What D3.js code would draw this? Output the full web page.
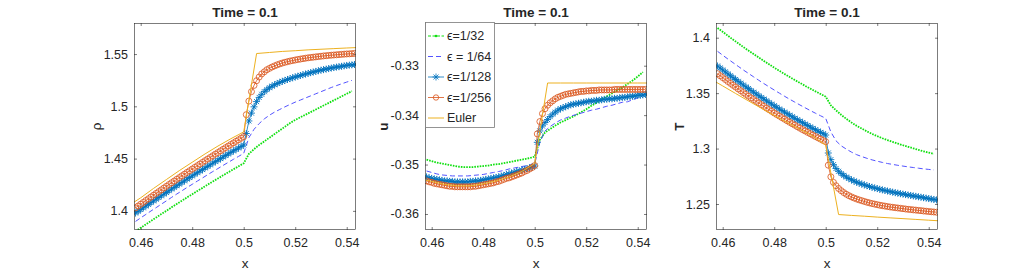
<!DOCTYPE html>
<html>
<head>
<meta charset="utf-8">
<script src="https://cdn.jsdelivr.net/npm/d3@7"></script>
<style>
  body { margin: 0; background: #fff; }
  svg text { font-family: "Liberation Sans", Arial, Helvetica, sans-serif; fill: #262626; }
</style>
</head>
<body>
<div id="chart"></div>
<script>
"use strict";

// x grids of the solutions
var xFine = [0.458,0.459,0.460,0.461,0.462,0.463,0.464,0.465,0.466,0.467,
  0.468,0.469,0.470,0.471,0.472,0.473,0.474,0.475,0.476,0.477,
  0.478,0.479,0.480,0.481,0.482,0.483,0.484,0.485,0.486,0.487,
  0.488,0.489,0.490,0.491,0.492,0.493,0.494,0.495,0.496,0.497,
  0.498,0.499,0.500,0.501,0.502,0.503,0.504,0.505,0.506,0.507,
  0.508,0.509,0.510,0.511,0.512,0.513,0.514,0.515,0.516,0.517,
  0.518,0.519,0.520,0.521,0.522,0.523,0.524,0.525,0.526,0.527,
  0.528,0.529,0.530,0.531,0.532,0.533,0.534,0.535,0.536,0.537,
  0.538,0.539,0.540,0.541,0.542,0.543];
var xCoarse = [0.458,0.460,0.462,0.464,0.466,0.468,0.470,0.472,0.474,0.476,
  0.478,0.480,0.482,0.484,0.486,0.488,0.490,0.492,0.494,0.496,
  0.498,0.500,0.502,0.504,0.506,0.508,0.510,0.512,0.514,0.516,
  0.518,0.520,0.522,0.524,0.526,0.528,0.530,0.532,0.534,0.536,
  0.538,0.540,0.542];
var xEuler = [0.455,0.460,0.465,0.470,0.475,0.480,0.485,0.490,0.495,0.500,
  0.505,0.510,0.515,0.520,0.525,0.530,0.535,0.540,0.545];

// density rho
var rhoE32 = [1.3804,1.3838,1.3871,1.3904,1.3936,1.3969,1.4001,1.4034,1.4066,1.4097,
  1.4129,1.4159,1.4190,1.4220,1.4251,1.4281,1.4310,1.4340,1.4369,1.4398,1.4426,1.4455,
  1.4545,1.4590,1.4630,1.4665,1.4700,1.4735,1.4770,1.4805,1.4840,1.4870,
  1.4895,1.4920,1.4945,1.4970,1.4995,1.5020,1.5045,1.5070,1.5095,1.5120,1.5145];
var rhoE64 = [1.3899,1.3933,1.3966,1.3999,1.4031,1.4064,1.4096,1.4129,1.4161,1.4192,
  1.4224,1.4254,1.4285,1.4315,1.4346,1.4376,1.4405,1.4435,1.4464,1.4493,1.4521,1.4550,
  1.4700,1.4780,1.4835,1.4880,1.4915,1.4945,1.4970,1.4995,1.5018,1.5040,
  1.5060,1.5080,1.5100,1.5120,1.5140,1.5160,1.5180,1.5198,1.5215,1.5232,1.5248];
var rhoE128 = [1.3979,1.3995,1.4013,1.4029,1.4046,1.4062,1.4079,1.4095,1.4111,1.4128,
  1.4144,1.4160,1.4176,1.4193,1.4209,1.4224,1.4241,1.4256,1.4272,1.4287,
  1.4304,1.4319,1.4334,1.4350,1.4365,1.4380,1.4395,1.4411,1.4426,1.4440,
  1.4456,1.4471,1.4485,1.4500,1.4515,1.4530,1.4544,1.4559,1.4573,1.4587,
  1.4601,1.4616,1.4630,
  1.4740,1.4860,1.4935,1.4995,1.5045,1.5085,1.5115,1.5140,1.5160,1.5178,
  1.5193,1.5206,1.5218,1.5229,1.5239,1.5248,1.5257,1.5265,1.5273,1.5281,
  1.5288,1.5295,1.5302,1.5309,1.5315,1.5322,1.5328,1.5334,1.5340,1.5346,
  1.5351,1.5356,1.5361,1.5366,1.5371,1.5375,1.5379,1.5383,1.5387,1.5391,
  1.5394,1.5397,1.5400];
var rhoE256 = [1.4029,1.4046,1.4064,1.4081,1.4099,1.4116,1.4133,1.4150,1.4167,1.4184,
  1.4201,1.4218,1.4235,1.4252,1.4269,1.4285,1.4302,1.4318,1.4335,1.4351,
  1.4368,1.4384,1.4400,1.4416,1.4432,1.4448,1.4464,1.4480,1.4496,1.4511,
  1.4527,1.4543,1.4558,1.4574,1.4589,1.4605,1.4620,1.4635,1.4650,1.4665,
  1.4680,1.4695,1.4710,
  1.4920,1.5050,1.5140,1.5200,1.5245,1.5280,1.5310,1.5330,1.5350,1.5363,
  1.5376,1.5387,1.5397,1.5406,1.5414,1.5421,1.5427,1.5433,1.5438,1.5443,
  1.5448,1.5452,1.5456,1.5460,1.5464,1.5467,1.5470,1.5473,1.5476,1.5479,
  1.5482,1.5484,1.5487,1.5489,1.5491,1.5493,1.5495,1.5497,1.5499,1.5501,
  1.5502,1.5504,1.5506];
var rhoEuler = [1.4045,1.4125,1.4215,1.4300,1.4385,1.4465,1.4545,1.4620,1.4690,1.4755,
  1.5505,1.5515,1.5525,1.5532,1.5540,1.5546,1.5552,1.5558,1.5563];

// velocity u
var uE32 = [-0.3490,-0.3493,-0.3496,-0.3498,-0.3500,-0.3502,-0.3504,-0.3505,-0.3505,-0.3505,
  -0.3504,-0.3503,-0.3502,-0.3500,-0.3499,-0.3497,-0.3495,-0.3493,-0.3491,-0.3489,-0.3487,-0.3484,
  -0.3450,-0.3435,-0.3428,-0.3421,-0.3415,-0.3410,-0.3405,-0.3400,-0.3394,-0.3388,
  -0.3381,-0.3375,-0.3368,-0.3362,-0.3356,-0.3350,-0.3344,-0.3337,-0.3330,-0.3322,-0.3313];
var uE64 = [-0.3513,-0.3516,-0.3519,-0.3521,-0.3522,-0.3523,-0.3523,-0.3523,-0.3523,-0.3522,
  -0.3521,-0.3520,-0.3518,-0.3516,-0.3514,-0.3512,-0.3509,-0.3507,-0.3505,-0.3503,-0.3501,-0.3499,
  -0.3455,-0.3432,-0.3423,-0.3416,-0.3410,-0.3406,-0.3402,-0.3399,-0.3396,-0.3393,
  -0.3390,-0.3388,-0.3385,-0.3382,-0.3380,-0.3377,-0.3374,-0.3373,-0.3369,-0.3365,-0.3361];
var uE128 = [-0.3525,-0.3527,-0.3528,-0.3529,-0.3530,-0.3531,-0.3532,-0.3533,-0.3533,-0.3534,
  -0.3534,-0.3535,-0.3535,-0.3535,-0.3535,-0.3535,-0.3535,-0.3534,-0.3534,-0.3533,
  -0.3533,-0.3532,-0.3531,-0.3530,-0.3529,-0.3528,-0.3527,-0.3526,-0.3525,-0.3523,
  -0.3522,-0.3520,-0.3519,-0.3517,-0.3516,-0.3514,-0.3513,-0.3511,-0.3510,-0.3508,
  -0.3507,-0.3505,-0.3503,
  -0.3455,-0.3432,-0.3422,-0.3415,-0.3409,-0.3403,-0.3398,-0.3394,-0.3390,-0.3387,
  -0.3385,-0.3383,-0.3381,-0.3379,-0.3378,-0.3377,-0.3376,-0.3375,-0.3374,-0.3373,
  -0.3372,-0.3372,-0.3371,-0.3370,-0.3370,-0.3369,-0.3368,-0.3368,-0.3367,-0.3367,
  -0.3366,-0.3366,-0.3365,-0.3364,-0.3364,-0.3363,-0.3362,-0.3362,-0.3361,-0.3360,
  -0.3360,-0.3359,-0.3358];
var uE256 = [-0.3533,-0.3535,-0.3536,-0.3538,-0.3539,-0.3540,-0.3541,-0.3542,-0.3543,-0.3544,
  -0.3544,-0.3545,-0.3545,-0.3545,-0.3545,-0.3545,-0.3545,-0.3545,-0.3544,-0.3544,
  -0.3543,-0.3542,-0.3541,-0.3540,-0.3539,-0.3538,-0.3537,-0.3535,-0.3534,-0.3532,
  -0.3530,-0.3528,-0.3527,-0.3525,-0.3523,-0.3521,-0.3519,-0.3517,-0.3514,-0.3512,
  -0.3509,-0.3506,-0.3502,
  -0.3438,-0.3413,-0.3397,-0.3387,-0.3380,-0.3375,-0.3371,-0.3367,-0.3364,-0.3362,
  -0.3360,-0.3358,-0.3357,-0.3356,-0.3355,-0.3354,-0.3353,-0.3352,-0.3352,-0.3351,
  -0.3351,-0.3350,-0.3350,-0.3350,-0.3349,-0.3349,-0.3349,-0.3349,-0.3349,-0.3349,
  -0.3348,-0.3348,-0.3348,-0.3348,-0.3348,-0.3348,-0.3348,-0.3348,-0.3348,-0.3348,
  -0.3348,-0.3348,-0.3348];
var uEuler = [-0.3528,-0.3534,-0.3540,-0.3543,-0.3543,-0.3539,-0.3533,-0.3525,-0.3514,-0.3498,
  -0.3335,-0.3335,-0.3335,-0.3335,-0.3335,-0.3335,-0.3335,-0.3335,-0.3335];

// temperature T
var TE32 = [1.4088,1.4053,1.4018,1.3983,1.3950,1.3916,1.3884,1.3852,1.3821,1.3790,
  1.3760,1.3730,1.3701,1.3673,1.3646,1.3618,1.3592,1.3566,1.3541,1.3516,1.3492,1.3468,
  1.3390,1.3345,1.3305,1.3268,1.3235,1.3205,1.3180,1.3155,1.3132,1.3112,
  1.3093,1.3076,1.3060,1.3045,1.3030,1.3016,1.3002,1.2988,1.2975,1.2963,1.2952];
var TE64 = [1.3877,1.3842,1.3808,1.3775,1.3742,1.3709,1.3678,1.3647,1.3616,1.3586,
  1.3557,1.3528,1.3500,1.3472,1.3445,1.3419,1.3393,1.3368,1.3343,1.3319,1.3296,1.3273,
  1.3150,1.3070,1.3025,1.2995,1.2968,1.2945,1.2928,1.2912,1.2898,1.2886,
  1.2875,1.2865,1.2857,1.2849,1.2842,1.2835,1.2829,1.2823,1.2817,1.2812,1.2807];
var TE128 = [1.3745,1.3727,1.3709,1.3692,1.3674,1.3657,1.3640,1.3623,1.3606,1.3590,
  1.3573,1.3557,1.3541,1.3524,1.3508,1.3493,1.3477,1.3461,1.3446,1.3431,
  1.3416,1.3401,1.3386,1.3372,1.3357,1.3343,1.3329,1.3315,1.3301,1.3287,
  1.3273,1.3260,1.3247,1.3234,1.3221,1.3208,1.3195,1.3182,1.3170,1.3158,
  1.3146,1.3134,1.3122,
  1.2960,1.2900,1.2855,1.2820,1.2795,1.2775,1.2758,1.2743,1.2730,1.2718,
  1.2707,1.2697,1.2688,1.2680,1.2672,1.2665,1.2658,1.2651,1.2645,1.2639,
  1.2633,1.2627,1.2622,1.2617,1.2612,1.2607,1.2602,1.2598,1.2593,1.2589,
  1.2585,1.2581,1.2577,1.2573,1.2569,1.2565,1.2561,1.2557,1.2553,1.2549,
  1.2545,1.2541,1.2537];
var TE256 = [1.3675,1.3657,1.3640,1.3623,1.3605,1.3588,1.3571,1.3555,1.3538,1.3522,
  1.3505,1.3489,1.3473,1.3457,1.3442,1.3426,1.3411,1.3396,1.3381,1.3365,
  1.3351,1.3336,1.3321,1.3307,1.3293,1.3279,1.3265,1.3251,1.3237,1.3224,
  1.3211,1.3197,1.3184,1.3171,1.3159,1.3146,1.3134,1.3121,1.3109,1.3097,
  1.3085,1.3073,1.3062,
  1.2850,1.2745,1.2695,1.2665,1.2640,1.2620,1.2603,1.2588,1.2575,1.2564,
  1.2554,1.2545,1.2537,1.2530,1.2523,1.2516,1.2510,1.2504,1.2499,1.2494,
  1.2489,1.2485,1.2481,1.2477,1.2473,1.2470,1.2467,1.2464,1.2461,1.2458,
  1.2455,1.2452,1.2450,1.2447,1.2445,1.2442,1.2440,1.2437,1.2435,1.2432,
  1.2430,1.2428,1.2426];
var TEuler = [1.3632,1.3565,1.3497,1.3430,1.3364,1.3299,1.3236,1.3174,1.3113,1.3030,
  1.2405,1.2397,1.2390,1.2382,1.2375,1.2368,1.2361,1.2354,1.2347];

var xTicks = [0.46, 0.48, 0.5, 0.52, 0.54];
var rhoTicks = [1.4, 1.45, 1.5, 1.55];
var uTicks = [-0.36, -0.35, -0.34, -0.33];
var TTicks = [1.25, 1.3, 1.35, 1.4];
var legendLabels = ["\u03f5=1/32", "\u03f5 = 1/64", "\u03f5=1/128", "\u03f5=1/256", "Euler"];

var W = 1035, H = 273;
var top_ = 23, bottom = 230, pw = 222;

var svg = d3.select('#chart').append('svg')
  .attr('width', W)
  .attr('height', H);

// styles for e=1/32, 1/64, 1/128, 1/256, Euler
var styles = [
  { color: '#11e011', width: 1.8, dash: '1.6,1.1', marker: null },
  { color: '#5353ff', width: 1, dash: '5,3', marker: null },
  { color: '#0072bd', width: 0.8, dash: null, marker: 'star' },
  { color: '#d95319', width: 0.8, dash: null, marker: 'circle' },
  { color: '#edb120', width: 1, dash: null, marker: null }
];
var starPath = 'M-3.5,0H3.5M0,-3.5V3.5M-2.5,-2.5L2.5,2.5M-2.5,2.5L2.5,-2.5';

var panels = [
  { left: 134, yDomain: [1.3817, 1.5797], ticks: rhoTicks, ylabel: '\u03c1', labelX: 101, bold: false,
    series: [[xCoarse, rhoE32], [xCoarse, rhoE64], [xFine, rhoE128], [xFine, rhoE256], [xEuler, rhoEuler]] },
  { left: 425, yDomain: [-0.36324, -0.32136], ticks: uTicks, ylabel: 'u', labelX: 388, bold: true,
    series: [[xCoarse, uE32], [xCoarse, uE64], [xFine, uE128], [xFine, uE256], [xEuler, uEuler]] },
  { left: 716, yDomain: [1.22655, 1.41326], ticks: TTicks, ylabel: 'T', labelX: 684, bold: true,
    series: [[xCoarse, TE32], [xCoarse, TE64], [xFine, TE128], [xFine, TE256], [xEuler, TEuler]] }
];

panels.forEach(function(p, i) {
  var x = d3.scaleLinear().domain([0.4574, 0.5436]).range([p.left, p.left + pw]);
  var y = d3.scaleLinear().domain(p.yDomain).range([bottom, top_]);
  var g = svg.append('g');

  g.append('clipPath').attr('id', 'clip' + i)
    .append('rect')
      .attr('x', p.left).attr('y', top_)
      .attr('width', pw).attr('height', bottom - top_);

  // axes: ticks pointing inwards on all four sides
  var fmt = function(d) { return String(d); };
  var xb = g.append('g').attr('transform', 'translate(0,' + bottom + ')')
    .call(d3.axisBottom(x).tickValues(xTicks).tickFormat(fmt).tickSizeInner(-3).tickSizeOuter(0).tickPadding(8));
  var yl = g.append('g').attr('transform', 'translate(' + p.left + ',0)')
    .call(d3.axisLeft(y).tickValues(p.ticks).tickFormat(fmt).tickSizeInner(-3).tickSizeOuter(0).tickPadding(6));
  var xt = g.append('g').attr('transform', 'translate(0,' + top_ + ')')
    .call(d3.axisTop(x).tickValues(xTicks).tickFormat('').tickSizeInner(-3).tickSizeOuter(0));
  var yr = g.append('g').attr('transform', 'translate(' + (p.left + pw) + ',0)')
    .call(d3.axisRight(y).tickValues(p.ticks).tickFormat('').tickSizeInner(-3).tickSizeOuter(0));
  [xb, yl, xt, yr].forEach(function(a) {
    a.select('.domain').remove();
    a.selectAll('line').attr('stroke', '#262626').attr('stroke-width', 0.6);
    a.selectAll('text').attr('font-size', '12.5px').attr('fill', '#262626')
      .attr('font-family', '"Liberation Sans", Arial, Helvetica, sans-serif');
  });

  // plotted series, clipped to the axes
  var plot = g.append('g').attr('clip-path', 'url(#clip' + i + ')');
  p.series.forEach(function(s, k) {
    var st = styles[k];
    var pts = d3.zip(s[0], s[1]);
    var line = d3.line().x(d => x(d[0])).y(d => y(d[1]));
    plot.append('path')
      .attr('d', line(pts))
      .attr('fill', 'none')
      .attr('stroke', st.color)
      .attr('stroke-width', st.width)
      .attr('stroke-dasharray', st.dash);
    if (st.marker == 'star') {
      plot.selectAll('.star' + k).data(pts).join('path')
        .attr('class', 'star' + k)
        .attr('transform', d => 'translate(' + x(d[0]) + ',' + y(d[1]) + ')')
        .attr('d', starPath)
        .attr('stroke', st.color)
        .attr('stroke-width', 0.9)
        .attr('fill', 'none');
    } else if (st.marker == 'circle') {
      plot.selectAll('.circ' + k).data(pts).join('circle')
        .attr('class', 'circ' + k)
        .attr('cx', d => x(d[0]))
        .attr('cy', d => y(d[1]))
        .attr('r', 3)
        .attr('stroke', st.color)
        .attr('stroke-width', 0.8)
        .attr('fill', 'none');
    }
  });

  // box
  g.append('rect')
    .attr('x', p.left + 0.5).attr('y', top_ + 0.5)
    .attr('width', pw - 1).attr('height', bottom - top_ - 1)
    .attr('fill', 'none')
    .attr('stroke', '#262626')
    .attr('stroke-width', 0.6);

  // title and labels
  g.append('text')
    .attr('x', p.left + pw / 2).attr('y', 16.5)
    .attr('text-anchor', 'middle')
    .attr('font-size', '13.5px')
    .attr('font-weight', 'bold')
    .text('Time = 0.1');
  g.append('text')
    .attr('x', p.left + pw / 2).attr('y', 268)
    .attr('text-anchor', 'middle')
    .attr('font-size', '13.5px')
    .text('x');
  g.append('text')
    .attr('transform', 'translate(' + p.labelX + ',' + ((top_ + bottom) / 2) + ') rotate(-90)')
    .attr('text-anchor', 'middle')
    .attr('font-size', '13.5px')
    .attr('font-weight', p.bold ? 'bold' : 'normal')
    .text(p.ylabel);

  // legend sits in the middle panel
  if (i == 1) {
    var lg = g.append('g');
    lg.append('rect')
      .attr('x', p.left + 0.5).attr('y', 22.5)
      .attr('width', 69).attr('height', 105)
      .attr('fill', '#fff')
      .attr('stroke', '#7a7a7a')
      .attr('stroke-width', 0.8);
    legendLabels.forEach(function(lab, k) {
      var st = styles[k];
      var ly = 36 + k * 20.5;
      var x0 = p.left + 3, x1 = p.left + 19, xm = (x0 + x1) / 2;
      lg.append('line')
        .attr('x1', x0).attr('x2', x1).attr('y1', ly).attr('y2', ly)
        .attr('stroke', st.color)
        .attr('stroke-width', k == 0 ? 1 : st.width)
        .attr('stroke-dasharray', k == 0 ? '3,1.5' : st.dash);
      if (k == 0) {
        lg.append('circle').attr('cx', xm).attr('cy', ly).attr('r', 1.3).attr('fill', st.color);
      } else if (st.marker == 'star') {
        lg.append('path').attr('transform', 'translate(' + xm + ',' + ly + ')')
          .attr('d', starPath).attr('stroke', st.color).attr('stroke-width', 0.8).attr('fill', 'none');
      } else if (st.marker == 'circle') {
        lg.append('circle').attr('cx', xm).attr('cy', ly).attr('r', 2.7)
          .attr('stroke', st.color).attr('stroke-width', 0.8).attr('fill', 'none');
      }
      lg.append('text')
        .attr('x', p.left + 22).attr('y', ly)
        .attr('dy', '0.35em')
        .attr('font-size', '12.5px')
        .text(lab);
    });
  }
});
</script>
</body>
</html>
